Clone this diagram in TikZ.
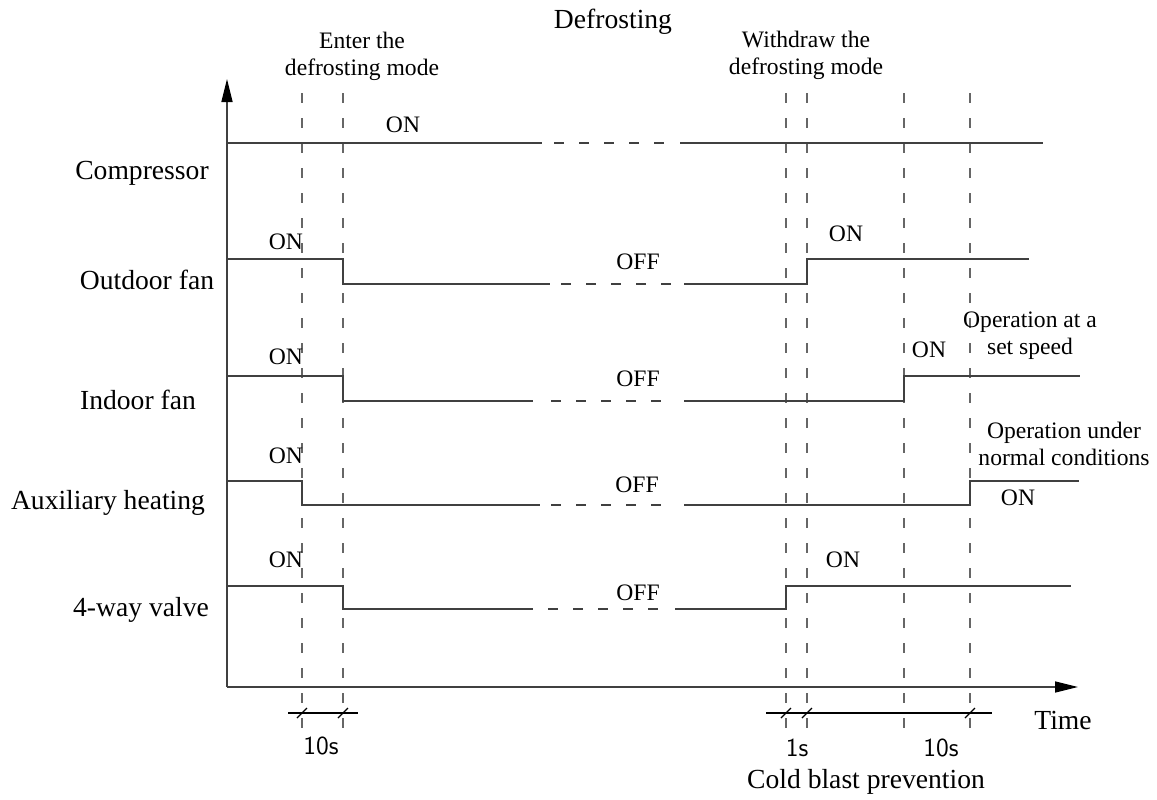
\documentclass[tikz,border=0pt]{standalone}
\usepackage{fontspec}
\setmainfont{Liberation Serif}
\usetikzlibrary{arrows.meta}

\begin{document}
\begin{tikzpicture}[x=0.5pt,y=-0.5pt,
    wave/.style={line width=0.75pt,draw=black!75},
    gap/.style={line width=0.75pt,draw=black!75,dash pattern=on 5pt off 7.5pt},
    guide/.style={line width=0.6pt,draw=black!60,dash pattern=on 5pt off 7.5pt},
    axis/.style={line width=0.75pt,draw=black!75,-{Triangle[length=11.5pt,width=5.5pt,color=black]}},
    big/.style={inner sep=0pt,font=\fontsize{13.8pt}{16pt}\selectfont},
    small/.style={inner sep=0pt,align=center,font=\fontsize{11.8pt}{13.5pt}\selectfont},
    cad/.style={inner sep=0pt,font=\sffamily\fontsize{13pt}{15pt}\selectfont}]

      \useasboundingbox (0,0) rectangle (1157,799);

      % axes
      \coordinate (o) at (227,687);
      \coordinate (ytop) at (227,79);
      \coordinate (xend) at (1078,687);
      \draw [axis] (o) to (ytop);
      \draw [axis] (o) to (xend);

      % guide lines
      \draw [guide] (302,93) to (302,731);
      \draw [guide] (343,93) to (343,731);
      \draw [guide] (786,93) to (786,731);
      \draw [guide] (807,93) to (807,731);
      \draw [guide] (904,93) to (904,731);
      \draw [guide] (970,93) to (970,731);

      % compressor
      \draw [wave] (227,143) to (542,143);
      \draw [gap] (554,143) to (670,143);
      \draw [wave] (680,143) to (1043,143);

      % outdoor fan
      \draw [wave] (227,259) -- (343,259) -- (343,284) -- (550,284);
      \draw [gap] (561,284) to (674,284);
      \draw [wave] (684,284) -- (807,284) -- (807,259) -- (1029,259);

      % indoor fan
      \draw [wave] (227,376) -- (343,376) -- (343,401) -- (533,401);
      \draw [gap] (551,401) to (662,401);
      \draw [wave] (684,401) -- (904,401) -- (904,376) -- (1080,376);

      % auxiliary heating
      \draw [wave] (227,481) -- (302,481) -- (302,505) -- (540,505);
      \draw [gap] (551,505) to (662,505);
      \draw [wave] (684,505) -- (970,505) -- (970,481) -- (1079,481);

      % 4-way valve
      \draw [wave] (227,586) -- (343,586) -- (343,609) -- (533,609);
      \draw [gap] (548,609) to (662,609);
      \draw [wave] (675,609) -- (786,609) -- (786,586) -- (1071,586);

      % row labels
      \node [big] (comp) at (142,173) {Compressor};
      \node [big] (outfan) at (147,280) {Outdoor fan};
      \node [big] (infan) at (138,400) {Indoor fan};
      \node [big] (aux) at (108,503) {Auxiliary heating};
      \node [big] (valve) at (141,610) {4-way valve};

      % top notes
      \node [big] (defrost) at (613,22) {Defrosting};
      \node [small] (enter) at (362,56) {Enter the\\defrosting mode};
      \node [small] (withdraw) at (806,55) {Withdraw the\\defrosting mode};

      % states
      \node [small] (compon) at (403,125) {ON};
      \node [small] (outon) at (286,242) {ON};
      \node [small] (inon) at (286,357) {ON};
      \node [small] (auxon) at (286,456) {ON};
      \node [small] (valveon) at (286,560) {ON};
      \node [small] (outoff) at (638,262) {OFF};
      \node [small] (inoff) at (638,379) {OFF};
      \node [small] (auxoff) at (637,485) {OFF};
      \node [small] (valveoff) at (638,593) {OFF};
      \node [small] (outon2) at (846,234) {ON};
      \node [small] (inon2) at (929,350) {ON};
      \node [small] (auxon2) at (1018,498) {ON};
      \node [small] (valveon2) at (843,560) {ON};
      \node [small] (setspeed) at (1030,336) {Operation at a\\set speed};
      \node [small] (normal) at (1064,444) {Operation under\\normal conditions};

      % time marks
      \draw [line width=0.6pt] (288,713) to (358,713);
      \draw [line width=0.6pt] (766,713) to (992,713);
      \draw [line width=0.6pt] (297,718) to (307,708);
      \draw [line width=0.6pt] (338,718) to (348,708);
      \draw [line width=0.6pt] (781,718) to (791,708);
      \draw [line width=0.6pt] (802,718) to (812,708);
      \draw [line width=0.6pt] (965,718) to (975,708);

      \node [cad] (tenl) at (321,746) {10s};
      \node [cad] (one) at (797,748) {1s};
      \node [cad] (tenr) at (941,748) {10s};
      \node [big] (time) at (1063,720) {Time};
      \node [big] (cold) at (866,782) {Cold blast prevention};

    \end{tikzpicture}
\end{document}
